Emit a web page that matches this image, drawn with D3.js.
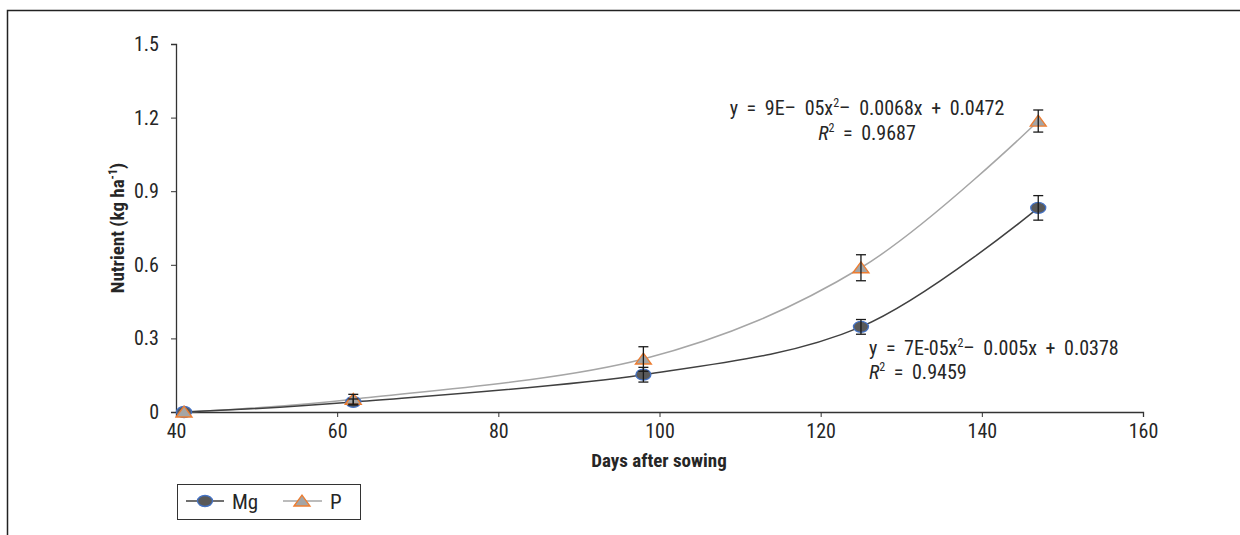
<!DOCTYPE html>
<html><head><meta charset="utf-8">
<script src="https://cdn.jsdelivr.net/npm/d3@7"></script>
<style>
body{margin:0;background:#fff;}
text{font-family:"Liberation Sans Narrow","Roboto Condensed","DejaVu Sans Condensed","Liberation Sans",sans-serif;fill:#262626;}
</style></head>
<body><svg id="c" width="1240" height="535"></svg>
<script>
const days = [41, 62, 98, 125, 147];
const mgValues = [0, 0.041, 0.152, 0.347, 0.832];
const mgErrors = [0.005, 0.012, 0.03, 0.03, 0.05];
const pValues = [0, 0.052, 0.216, 0.588, 1.186];
const pErrors = [0.005, 0.02, 0.05, 0.053, 0.045];
const xTicks = [40, 60, 80, 100, 120, 140, 160];
const yTicks = [0, 0.3, 0.6, 0.9, 1.2, 1.5];
const seriesNames = ["Mg", "P"];
const pEquation = ["y = 9E– 05x", "2", "– 0.0068x + 0.0472"];
const pR2 = "0.9687";
const mgEquation = ["y = 7E-05x", "2", "– 0.005x + 0.0378"];
const mgR2 = "0.9459";

const FONT = '"Liberation Sans Narrow","Roboto Condensed","DejaVu Sans Condensed",sans-serif';
const svg = d3.select("#c");
// outer frame (top and left visible)
svg.append("path").attr("d","M7.5,535 L7.5,10.5 L1240,10.5").attr("fill","none").attr("stroke","#222").attr("stroke-width",1.5);

const x = d3.scaleLinear().domain([40,160]).range([176,1143]);
const y = d3.scaleLinear().domain([0,1.5]).range([412,44]);

const axisColor = "#333";
const gx = svg.append("g").attr("transform","translate(0,412)")
  .call(d3.axisBottom(x).tickValues(xTicks).tickSize(5).tickPadding(3).tickFormat(d3.format("d")));
const gy = svg.append("g").attr("transform","translate(176,0)")
  .call(d3.axisLeft(y).tickValues(yTicks).tickSize(5).tickPadding(12).tickFormat(d=>d===0?"0":d3.format(".1f")(d)));
[gx,gy].forEach(g=>{
  g.select(".domain").attr("stroke",axisColor).attr("stroke-width",1.3);
  g.selectAll(".tick line").attr("stroke",axisColor);
  g.selectAll(".tick text").attr("font-size",20).attr("fill","#333").style("font-family",FONT);
});
gx.selectAll(".tick text").attr("dy","0.9em");

// axis titles
svg.append("text").attr("x",659).attr("y",467).attr("text-anchor","middle")
  .attr("font-size",19).attr("font-weight","bold").text("Days after sowing");
const yt = svg.append("text").attr("transform","translate(124,228) rotate(-90)").attr("text-anchor","middle")
  .attr("font-size",19).attr("font-weight","bold");
yt.append("tspan").text("Nutrient (kg ha");
yt.append("tspan").attr("font-size",12).attr("dy",-7).text("-1");
yt.append("tspan").attr("dy",7).text(")");

const line = d3.line().x(d=>x(d[0])).y(d=>y(d[1])).curve(d3.curveCardinal.tension(0));
const mgData = days.map((d,i)=>[d,mgValues[i],mgErrors[i]]);
const pData = days.map((d,i)=>[d,pValues[i],pErrors[i]]);

svg.append("path").datum(pData).attr("d",line).attr("fill","none").attr("stroke","#a6a6a6").attr("stroke-width",1.5);
svg.append("path").datum(mgData).attr("d",line).attr("fill","none").attr("stroke","#404040").attr("stroke-width",1.5);

function errBars(data){
  const g = svg.append("g").attr("stroke","#1a1a1a").attr("stroke-width",1.3);
  data.forEach(d=>{
    if(d[2]<0.008) return;
    const cx=x(d[0]), y1=y(d[1]+d[2]), y2=y(d[1]-d[2]);
    g.append("line").attr("x1",cx).attr("x2",cx).attr("y1",y1).attr("y2",y2);
    g.append("line").attr("x1",cx-5).attr("x2",cx+5).attr("y1",y1).attr("y2",y1);
    g.append("line").attr("x1",cx-5).attr("x2",cx+5).attr("y1",y2).attr("y2",y2);
  });
}
function mgMarker(g,cx,cy){
  g.append("ellipse").attr("cx",cx).attr("cy",cy).attr("rx",7.5).attr("ry",5.5)
   .attr("fill","#595959").attr("stroke","#4472c4").attr("stroke-width",1.3);
}
function pMarker(g,cx,cy){
  g.append("path").attr("d",`M${cx-8},${cy+5} L${cx},${cy-6} L${cx+8},${cy+5} Z`)
   .attr("fill","#a5a5a5").attr("stroke","#ed7d31").attr("stroke-width",1.3);
}
const mk = svg.append("g");
mgData.forEach(d=>mgMarker(mk,x(d[0]),y(d[1])));
pData.forEach(d=>pMarker(mk,x(d[0]),y(d[1])));
errBars(mgData);
errBars(pData);

// equations
function eq(xp,yp,parts,anchor){
  const t = svg.append("text").attr("x",xp).attr("y",yp).attr("font-size",20).attr("text-anchor",anchor)
    .attr("word-spacing",4).attr("fill","#333");
  t.append("tspan").text(parts[0]);
  t.append("tspan").attr("font-size",12).attr("dy",-8).text(parts[1]);
  t.append("tspan").attr("dy",8).text(parts[2]);
}
function r2(xp,yp,val,anchor){
  const t = svg.append("text").attr("x",xp).attr("y",yp).attr("font-size",20).attr("text-anchor",anchor)
    .attr("word-spacing",4).attr("fill","#333");
  t.append("tspan").attr("font-style","italic").text("R");
  t.append("tspan").attr("font-size",12).attr("dy",-8).text("2");
  t.append("tspan").attr("dy",8).text(" = "+val);
}
eq(867,115,pEquation,"middle");
r2(867,140,pR2,"middle");
eq(869,355,mgEquation,"start");
r2(869,379,mgR2,"start");

// legend
const lg = svg.append("g");
lg.append("rect").attr("x",177.5).attr("y",484.5).attr("width",183).attr("height",35)
  .attr("fill","#fff").attr("stroke","#333").attr("stroke-width",1);
lg.append("line").attr("x1",186).attr("x2",224).attr("y1",501).attr("y2",501).attr("stroke","#404040").attr("stroke-width",1.5);
mgMarker(lg,205,501);
lg.append("text").attr("x",232).attr("y",509).attr("font-size",21).attr("fill","#333").text(seriesNames[0]);
lg.append("line").attr("x1",283).attr("x2",322).attr("y1",501).attr("y2",501).attr("stroke","#a6a6a6").attr("stroke-width",1.5);
pMarker(lg,302,501);
lg.append("text").attr("x",330).attr("y",509).attr("font-size",21).attr("fill","#333").text(seriesNames[1]);
</script></body></html>
